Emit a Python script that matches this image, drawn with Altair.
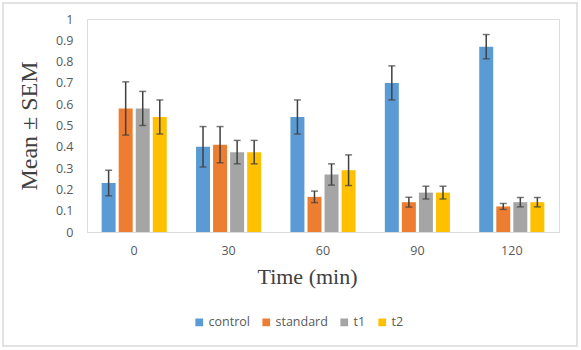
import altair as alt
import pandas as pd

times = ["0", "30", "60", "90", "120"]
series = ["control", "standard", "t1", "t2"]
control = [0.23, 0.40, 0.54, 0.70, 0.87]
standard = [0.58, 0.41, 0.165, 0.14, 0.12]
t1 = [0.58, 0.375, 0.27, 0.185, 0.14]
t2 = [0.54, 0.375, 0.29, 0.185, 0.14]
control_sem = [0.06, 0.095, 0.08, 0.08, 0.057]
standard_sem = [0.125, 0.085, 0.027, 0.023, 0.014]
t1_sem = [0.08, 0.055, 0.05, 0.03, 0.022]
t2_sem = [0.08, 0.055, 0.072, 0.03, 0.022]
y_ticks = ["0", "0.1", "0.2", "0.3", "0.4", "0.5", "0.6", "0.7", "0.8", "0.9", "1"]
colors = ["#5B9BD5", "#ED7D31", "#A5A5A5", "#FFC000"]

rows = []
for name, vals, sems in zip(series, [control, standard, t1, t2],
                            [control_sem, standard_sem, t1_sem, t2_sem]):
    for t, v, s in zip(times, vals, sems):
        rows.append({"time": t, "group": name, "mean": v, "lo": v - s, "hi": v + s})
df = pd.DataFrame(rows)

xaxis = alt.Axis(labelAngle=0, ticks=False, domainColor="#D9D9D9",
                 labelFont="Open Sans", labelFontSize=12.5, labelColor="#595959",
                 labelPadding=12, titleFont="Liberation Serif", titleFontSize=22,
                 titleFontWeight="normal", titleColor="#404040", titlePadding=10,
                 titleX=220)
yaxis = alt.Axis(values=[float(v) for v in y_ticks], format="~g", grid=False,
                 domain=False, ticks=False, labelFont="Open Sans",
                 labelOverlap=False, labelFontSize=12.5, labelColor="#595959",
                 labelPadding=14, titleFont="Liberation Serif", titleFontSize=24,
                 titleFontWeight="normal", titleColor="#404040", titlePadding=14)
xscale = alt.Scale(paddingInner=0.31, paddingOuter=0.155)
yscale = alt.Scale(domain=[0, 1])


def xenc():
    return alt.X("time:N", sort=times, title="Time (min)", scale=xscale, axis=xaxis)


def yenc(field):
    return alt.Y(field, scale=yscale, title="Mean ± SEM", axis=yaxis)


xoff = alt.XOffset("group:N", sort=series, scale=alt.Scale(paddingInner=0.18))

base = alt.Chart(df)

bars = base.mark_bar().encode(
    x=xenc(), xOffset=xoff, y=yenc("mean:Q"),
    color=alt.Color("group:N", sort=series, scale=alt.Scale(domain=series, range=colors),
                    legend=alt.Legend(title=None, orient="none", direction="horizontal",
                                      legendX=106, legendY=297, symbolType="square",
                                      symbolSize=60, symbolStrokeWidth=0,
                                      labelFont="Open Sans", labelFontSize=12.5,
                                      labelColor="#595959", columnPadding=10,
                                      labelOffset=3)),
)

rules = base.mark_rule(color="#404040", strokeWidth=1.5).encode(
    x=xenc(), xOffset=xoff, y=yenc("lo:Q"), y2="hi:Q")
caps_hi = base.mark_tick(color="#404040", orient="horizontal", size=7, thickness=1.5).encode(
    x=xenc(), xOffset=xoff, y=yenc("hi:Q"))
caps_lo = base.mark_tick(color="#404040", orient="horizontal", size=7, thickness=1.5).encode(
    x=xenc(), xOffset=xoff, y=yenc("lo:Q"))

border = alt.Chart(pd.DataFrame({"a": [0]})).mark_rect(
    fill=None, stroke="#D9D9D9", strokeWidth=1.5, clip=False).encode(
    x=alt.value(-84), x2=alt.value(490), y=alt.value(-16), y2=alt.value(327))

chart = alt.layer(border, bars, rules, caps_hi, caps_lo).properties(
    width=472, height=213,
    autosize=alt.AutoSizeParams(type="none"),
    padding={"left": 87, "top": 19, "right": 22, "bottom": 118},
).configure_view(stroke=None).configure(background="white")

chart.save("out.html", embed_options={"renderer": "svg", "actions": False})
